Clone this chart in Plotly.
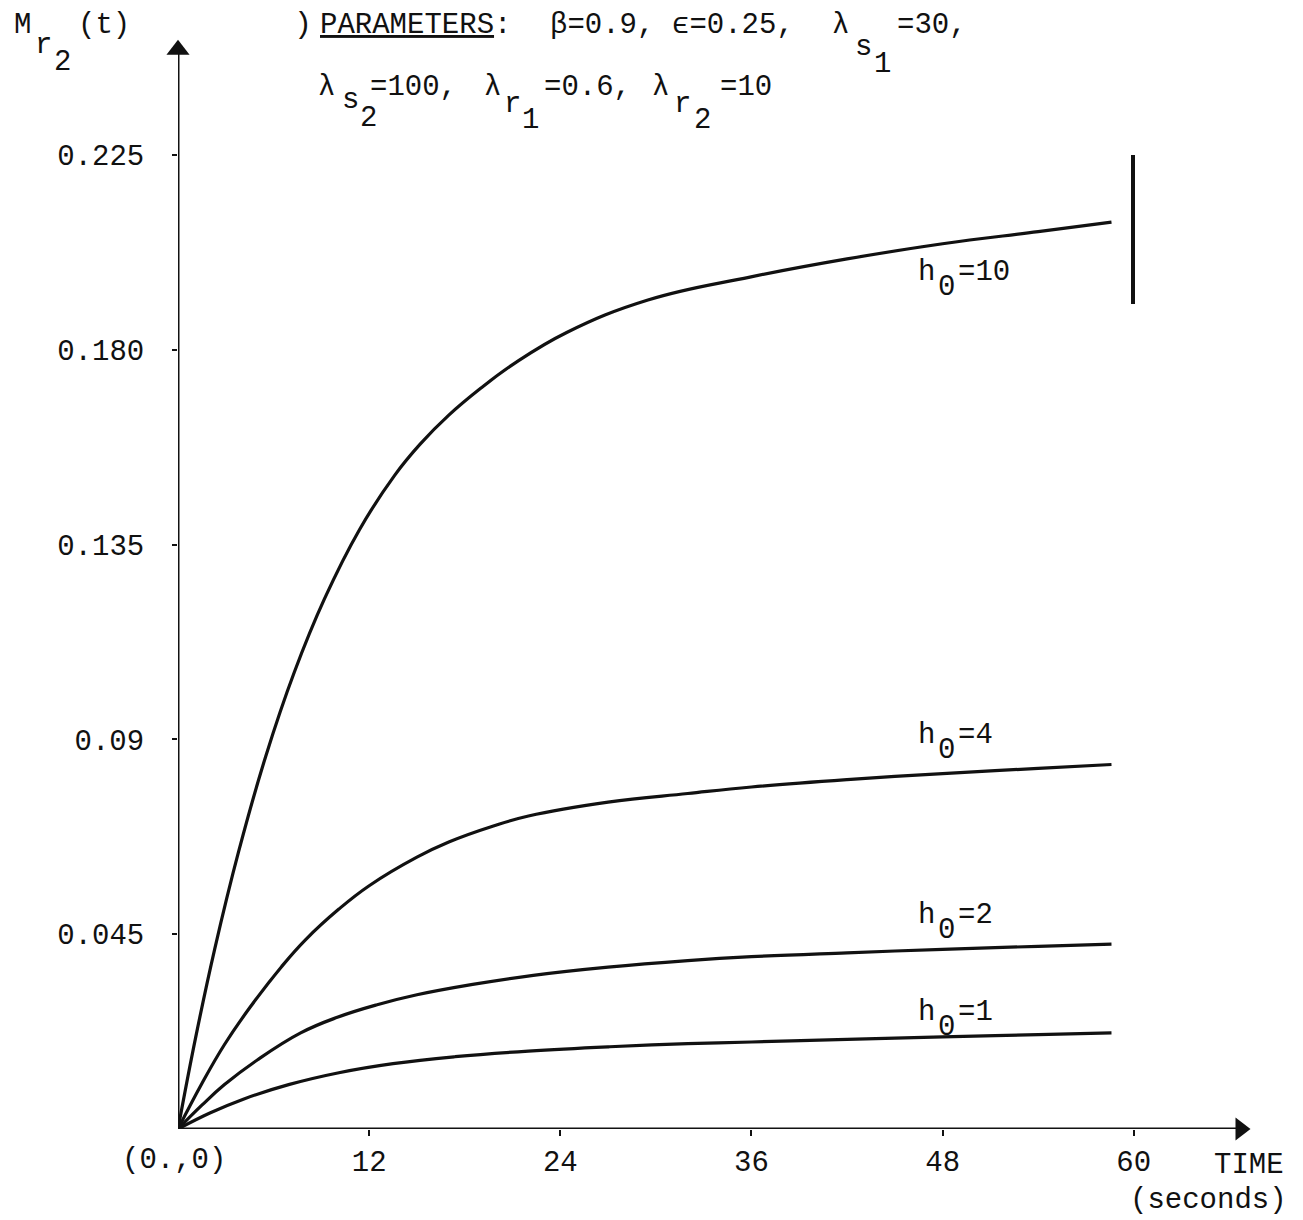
import plotly.graph_objects as go

# ---------------- data ----------------
t_h10 = [0, 1.1, 2.3, 3.8, 5.5, 7.3, 9.2, 11.4, 13.6, 15.2, 17.0, 19.0, 21.1, 24.4, 29.5, 35.9, 42.0, 48.0, 54.0, 58.6]
m_h10 = [0, 0.0210, 0.0415, 0.0640, 0.0860, 0.1055, 0.1225, 0.1385, 0.1510, 0.1582, 0.1649, 0.1711, 0.1768, 0.1840, 0.1915, 0.1968, 0.2010, 0.2045, 0.2073, 0.2095]

t_h4 = [0, 1.5, 2.9, 4.5, 6.5, 8.0, 10.1, 12.0, 15.0, 17.0, 19.8, 22.0, 27.0, 32.0, 36.0, 42.0, 48.0, 54.0, 58.6]
m_h4 = [0, 0.0105, 0.0194, 0.0280, 0.0375, 0.0437, 0.0508, 0.0562, 0.0628, 0.0663, 0.0700, 0.0723, 0.0755, 0.0775, 0.0790, 0.0807, 0.0821, 0.0833, 0.0842]

t_h2 = [0, 1.5, 2.9, 5.0, 7.7, 10.0, 12.5, 15.0, 18.5, 22.3, 27.0, 32.0, 36.0, 42.0, 48.0, 54.0, 58.6]
m_h2 = [0, 0.0055, 0.0102, 0.0160, 0.0222, 0.0258, 0.0287, 0.0310, 0.0334, 0.0355, 0.0374, 0.0389, 0.0398, 0.0407, 0.0415, 0.0422, 0.0427]

t_h1 = [0, 2.0, 4.1, 7.0, 10.1, 13.5, 17.4, 22.0, 27.1, 32.0, 36.0, 42.0, 48.0, 54.0, 58.6]
m_h1 = [0, 0.0037, 0.0069, 0.0103, 0.0130, 0.0151, 0.0167, 0.0180, 0.0190, 0.0197, 0.0201, 0.0207, 0.0213, 0.0218, 0.0222]

x_ticks = [12, 24, 36, 48, 60]
x_tick_text = ["12", "24", "36", "48", "60"]
y_ticks = [0.045, 0.09, 0.135, 0.180, 0.225]
y_tick_text = ["0.045", "0.09", "0.135", "0.180", "0.225"]

X_MAX = 67.17      # axis range (seconds)
Y_MAX = 0.2511     # axis range
X_ARROW = 66.7     # arrow head positions
Y_ARROW = 0.2493

# ---------------- layout helpers ----------------
BODY = 8                      # default page margin around the figure
W_FIG, H_FIG = 1303 - BODY, 1220 - BODY
ML, MR, MT, MB = 170, 55, 34, 91
PW = W_FIG - ML - MR
PH = H_FIG - MT - MB
FONT = "Liberation Mono, Courier New, monospace"
INK = "#111111"


def px(x):
    # page pixel x -> paper fraction
    return (x - BODY - ML) / PW


def py(y):
    # page pixel y -> paper fraction
    return (H_FIG - MB - (y - BODY)) / PH


fig = go.Figure()

for tt, mm in [(t_h10, m_h10), (t_h4, m_h4), (t_h2, m_h2), (t_h1, m_h1)]:
    fig.add_trace(go.Scatter(x=tt, y=mm, mode="lines",
                             line=dict(color=INK, width=3.2, shape="spline", smoothing=1.2),
                             showlegend=False, hoverinfo="skip"))

# axis arrow heads
fig.add_trace(go.Scatter(x=[0], y=[Y_ARROW], mode="markers",
                         marker=dict(symbol="triangle-up", size=20, color=INK),
                         cliponaxis=False, showlegend=False, hoverinfo="skip"))
fig.add_trace(go.Scatter(x=[X_ARROW], y=[0], mode="markers",
                         marker=dict(symbol="triangle-right", size=20, color=INK),
                         cliponaxis=False, showlegend=False, hoverinfo="skip"))

shapes = [
    dict(type="line", xref="x", yref="y", x0=0, y0=0, x1=X_ARROW, y1=0,
         line=dict(color=INK, width=3)),
    dict(type="line", xref="x", yref="y", x0=0, y0=0, x1=0, y1=Y_ARROW,
         line=dict(color=INK, width=3)),
    # vertical pen mark at the end of the h0=10 curve
    dict(type="line", xref="paper", yref="paper", x0=px(1133), y0=py(155), x1=px(1133), y1=py(304),
         line=dict(color=INK, width=4)),
]

annots = []


def txt(s, x, y, size=29, anchor="left"):
    annots.append(dict(text=s, x=px(x), y=py(y), xref="paper", yref="paper",
                       xanchor=anchor, yanchor="middle", showarrow=False,
                       font=dict(family=FONT, size=size, color=INK)))


# y-axis title  M_{r_2}(t)
txt("M", 12, 25)
txt("r", 33, 45)
txt("2", 52, 63)
txt("(t)", 76, 25)

# parameters
txt(")", 292, 25, size=30)
txt("<u>PARAMETERS</u>:", 318, 25)
txt("β=0.9,", 548, 25)
txt("ϵ=0.25,", 670, 25)
txt("λ", 830, 25)
txt("s", 853, 47)
txt("1", 872, 64)
txt("=30,", 895, 25)

txt("λ", 316, 88)
txt("s", 340, 100)
txt("2", 358, 118)
txt("=100,", 368, 88)
txt("λ", 482, 88)
txt("r", 502, 104)
txt("1", 520, 120)
txt("=0.6,", 542, 88)
txt("λ", 650, 88)
txt("r", 672, 104)
txt("2", 692, 120)
txt("=10", 718, 88)

# curve labels
for lab, yy in [("10", 272), ("4", 735), ("2", 915), ("1", 1012)]:
    txt("h", 916, yy)
    txt("0", 936, yy + 15)
    txt("=" + lab, 956, yy)

# origin label and axis title
txt("(0.,0)", 120, 1160)
txt("TIME", 1212, 1165)
txt("(seconds)", 1128, 1200)

fig.update_layout(
    width=W_FIG, height=H_FIG,
    margin=dict(l=ML, r=MR, t=MT, b=MB, pad=0),
    paper_bgcolor="white", plot_bgcolor="white",
    font=dict(family=FONT, size=29, color=INK),
    xaxis=dict(range=[0, X_MAX], showgrid=False, zeroline=False, showline=False,
               tickmode="array", tickvals=x_ticks, ticktext=x_tick_text,
               ticks="outside", ticklen=6, tickwidth=2, tickcolor=INK,
               tickfont=dict(family=FONT, size=29, color=INK)),
    yaxis=dict(range=[0, Y_MAX], showgrid=False, zeroline=False, showline=False,
               tickmode="array", tickvals=y_ticks, ticktext=y_tick_text,
               ticks="outside", ticklen=5, tickwidth=2, tickcolor=INK,
               ticklabelstandoff=22,
               tickfont=dict(family=FONT, size=29, color=INK)),
    shapes=shapes,
    annotations=annots,
    showlegend=False,
)

fig.write_html("out.html")
